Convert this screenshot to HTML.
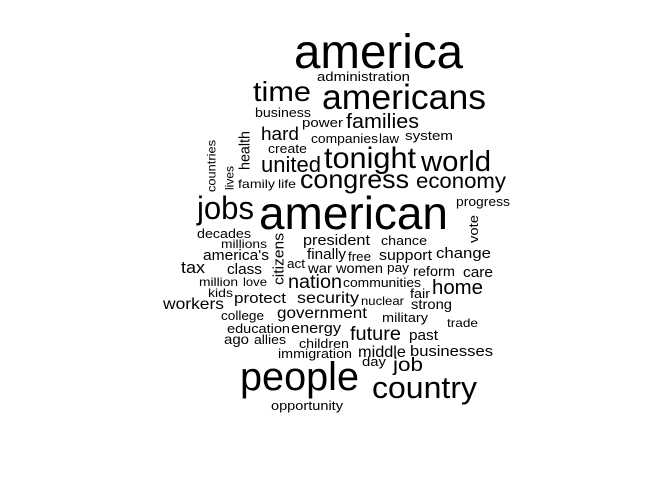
<!DOCTYPE html>
<html><head><meta charset="utf-8"><style>
html,body{margin:0;padding:0;background:#fff;}
svg{display:block;}
text{font-family:"Liberation Sans",Arial,sans-serif;fill:#000;}
</style></head><body>
<svg id="cloud" width="672" height="480" viewBox="0 0 672 480"></svg>
<script>
const words=["america","administration","time","americans","business","power","families","hard","companies","law","system","health","create","countries","lives","united","tonight","world","family","life","congress","economy","progress","jobs","american","vote","decades","millions","citizens","president","chance","america's","finally","free","support","change","tax","class","act","war","women","pay","reform","care","million","love","nation","communities","home","kids","protect","security","fair","nuclear","strong","workers","college","government","military","trade","education","energy","future","past","ago","allies","children","immigration","middle","businesses","day","job","people","country","opportunity"];
const x0=[294,317,253,322,255,302,346,261,311,379,405,243,268,208,226,261,324,421,238,278,300,416,456,197,259,470,197,221,274,303,381,203,307,348,379,436,181,227,287,308,336,387,413,463,199,243,288,343,432,208,234,297,410,361,411,163,221,277,382,447,227,291,350,409,224,254,299,278,358,410,362,393,240,372,271];
const x1=[463,410,311,486,311,343,419,299,378,399,453,253,307,218,236,321,416,491,275,296,409,506,510,254,448,481,251,267,287,370,427,269,346,371,432,491,205,262,305,332,383,409,455,493,238,267,342,421,483,233,286,359,430,404,452,224,264,367,428,478,290,341,401,438,249,286,349,352,406,493,386,423,359,477,343];
const base=[68,81,101,109,117,127,128,140,143,143,140,131,153,140,166,172,168,171,188,188,188,188,206,219,229,215,238,248,233,245,245,260,259,261,260,258,273,274,268,273,273,272,276,277,286,286,288,287,294,297,303,303,298,305,309,309,320,318,322,327,333,333,340,340,344,344,348,358,357,356,366,371,390,398,410];
const size=[48,13,28,35,13,13,20,18,13,13,13,15,13,12,12,22,30,29,12,12,26,21,13,32,46,13,13,12,15,15,13,15,15,13,15,15,17,15,13,14,14,13,14,15,12,12,19,13,20,12,15,16,13,12,14,16,13,16,13,12,13,15,19,15,14,13,13,13,16,15,13,19,40,31,13];
// vertical words: x0..x1 is horizontal band, base holds top y, extent given by vlen
const vert={"health":[131,170],"countries":[140,192],"lives":[166,190],"vote":[215,243],"citizens":[233,285]};
const svg=document.getElementById('cloud');
const NS='http://www.w3.org/2000/svg';
for(let i=0;i<words.length;i++){
  const w=words[i];
  const t=document.createElementNS(NS,'text');
  
  
  t.setAttribute('font-size',size[i]);
  t.setAttribute('lengthAdjust','spacingAndGlyphs');
  if(vert[w]){
    const [ya,yb]=vert[w];
    const cx=x1[i]-0.22*size[i];
    const cy=(ya+yb)/2;
    t.setAttribute('text-anchor','middle');
    t.setAttribute('textLength',yb-ya);
    t.setAttribute('transform','translate('+cx+','+cy+') rotate(-90)');
    t.setAttribute('x',0);t.setAttribute('y',0);
  } else {
    t.setAttribute('x',x0[i]);
    t.setAttribute('y',base[i]);
    t.setAttribute('textLength',x1[i]-x0[i]);
  }
  t.textContent=w;
  svg.appendChild(t);
}
</script>
</body></html>
